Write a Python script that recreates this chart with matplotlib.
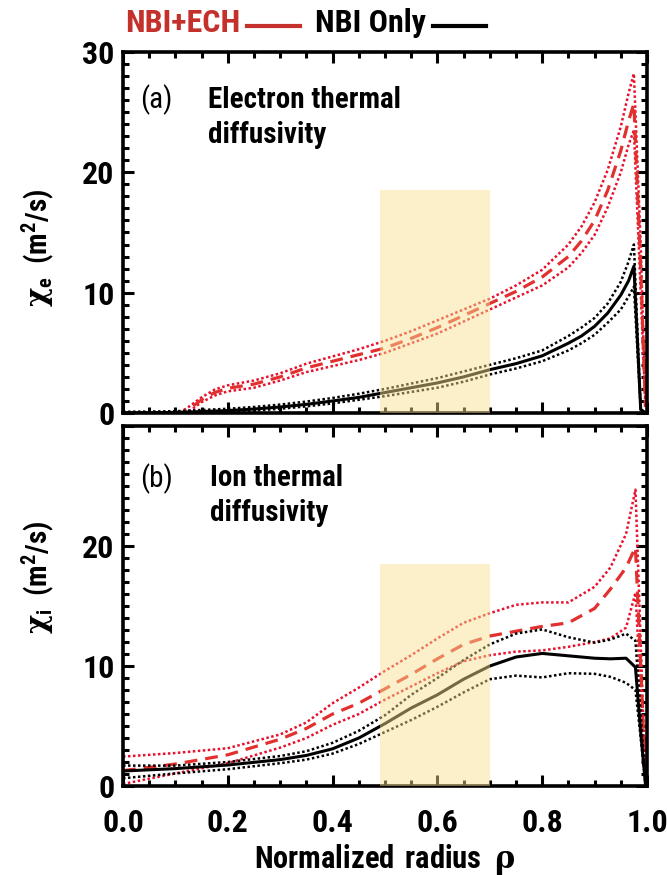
import numpy as np
import matplotlib
matplotlib.use('Agg')
import matplotlib.pyplot as plt
from matplotlib import font_manager
from matplotlib.lines import Line2D
from matplotlib.patches import Rectangle
from matplotlib.ticker import MultipleLocator

# pick the narrowest sans that is installed
installed = {f.name for f in font_manager.fontManager.ttflist}
base = 'DejaVu Sans'
for cand in ['Liberation Sans Narrow', 'Roboto Condensed', 'Open Sans Condensed',
             'Liberation Sans']:
    if cand in installed:
        base = cand
        break

plt.rcParams['font.family'] = [base, 'DejaVu Sans']
plt.rcParams['font.weight'] = 'bold'
plt.rcParams['axes.labelweight'] = 'bold'
plt.rcParams['mathtext.fontset'] = 'custom'
plt.rcParams['mathtext.rm'] = base + ':bold'
plt.rcParams['mathtext.bf'] = base + ':bold'
plt.rcParams['mathtext.it'] = 'DejaVu Serif'

nan = np.nan

# (a) electron thermal diffusivity, m^2/s
rho_a = [0.0, 0.05, 0.1, 0.125, 0.15, 0.175, 0.2, 0.25, 0.3, 0.35, 0.4, 0.45, 0.5,
         0.55, 0.6, 0.65, 0.7, 0.75, 0.8, 0.85, 0.875, 0.9, 0.925, 0.95, 0.965,
         0.975, 0.988, 0.997]
chie_nbi = [0.0, 0.02, 0.05, 0.08, 0.12, 0.16, 0.2, 0.33, 0.5, 0.72, 1.0, 1.3, 1.7,
            2.1, 2.5, 3.0, 3.6, 4.1, 4.75, 5.8, 6.4, 7.2, 8.3, 9.8, 11.0,
            12.2, 0.3, 0.0]
chie_nbi_hi = [0.1, 0.12, 0.15, 0.2, 0.25, 0.3, 0.35, 0.5, 0.7, 0.95, 1.25, 1.6, 2.0,
               2.45, 2.9, 3.45, 4.0, 4.55, 5.2, 6.4, 7.1, 7.9, 9.1, 10.9, 12.6,
               14.0, 0.3, 0.0]
chie_nbi_lo = [-0.1, -0.1, -0.05, 0.0, 0.03, 0.06, 0.1, 0.2, 0.35, 0.55, 0.8, 1.1, 1.4,
               1.75, 2.1, 2.6, 3.2, 3.7, 4.3, 5.2, 5.8, 6.5, 7.5, 8.6, 9.7,
               10.5, 0.3, 0.0]
chie_ech = [nan, nan, -0.3, 0.3, 1.1, 1.7, 2.05, 2.4, 3.0, 3.75, 4.3, 4.85, 5.4,
            6.2, 7.1, 8.1, 9.1, 10.1, 11.3, 13.0, 14.3, 16.0, 18.5, 21.8, 24.3,
            25.7, 12.0, 0.5]
chie_ech_hi = [nan, nan, -0.2, 0.5, 1.3, 1.95, 2.3, 2.7, 3.3, 4.1, 4.7, 5.3, 6.0,
               6.8, 7.7, 8.6, 9.5, 10.6, 11.9, 14.0, 15.5, 17.5, 20.2, 23.8, 26.6,
               28.2, 14.0, 0.5]
chie_ech_lo = [nan, nan, -0.4, 0.1, 0.9, 1.45, 1.8, 2.1, 2.7, 3.4, 3.9, 4.4, 5.0,
               5.8, 6.6, 7.6, 8.6, 9.6, 10.6, 12.1, 13.3, 14.8, 17.1, 20.0, 22.3,
               23.5, 10.0, 0.5]

# (b) ion thermal diffusivity, m^2/s
rho_b = [0.0, 0.1, 0.2, 0.3, 0.35, 0.4, 0.45, 0.5, 0.55, 0.6, 0.65, 0.7, 0.75,
         0.8, 0.85, 0.9, 0.93, 0.96, 0.978, 0.988, 0.997]
chii_nbi = [1.25, 1.45, 1.75, 2.2, 2.55, 3.1, 4.0, 5.2, 6.5, 7.6, 8.9, 10.0, 10.75,
            11.05, 10.85, 10.65, 10.6, 10.65, 9.9, 4.5, 0.2]
chii_nbi_hi = [1.7, 1.7, 2.0, 2.5, 2.9, 3.6, 4.6, 5.9, 7.6, 9.0, 10.5, 11.8, 12.7,
               13.05, 12.4, 11.95, 12.2, 12.7, 12.1, 6.0, 0.2]
chii_nbi_lo = [0.65, 1.05, 1.4, 1.9, 2.2, 2.7, 3.5, 4.5, 5.5, 6.6, 7.8, 8.9, 9.2,
               9.05, 9.4, 9.35, 9.1, 8.6, 8.0, 4.0, 0.2]
chii_ech = [1.28, 1.83, 2.6, 3.9, 4.8, 6.0, 6.9, 8.1, 9.3, 10.6, 11.8, 12.5, 12.9,
            13.3, 13.6, 14.8, 16.4, 18.2, 19.9, 10.0, 0.5]
chii_ech_hi = [2.45, 2.75, 3.15, 4.3, 5.3, 6.9, 8.2, 9.6, 10.9, 12.3, 13.6, 14.4, 15.1,
               15.3, 15.3, 16.6, 18.2, 21.0, 24.7, 12.0, 0.5]
chii_ech_lo = [0.17, 1.05, 1.9, 3.2, 4.0, 5.1, 6.0, 7.2, 8.3, 9.4, 10.4, 10.9, 11.2,
               11.3, 11.6, 12.0, 12.3, 13.2, 16.1, 8.0, 0.5]

# shaded region and panel limits
band_rho = [0.49, 0.70]
band_top = 18.5
ylim = [0, 30]

red_leg = '#c4302b'
red_dash = '#e2302e'
red_dot = '#e8102c'
dots = (0, (1, 1))

fig = plt.figure(figsize=(6.67, 8.75), dpi=100)
ax1 = fig.add_axes([0.1844, 0.528, 0.7856, 0.4126])
ax2 = fig.add_axes([0.1844, 0.1017, 0.7856, 0.4114])


def draw_panel(ax, rho, nbi, nbi_hi, nbi_lo, ech, ech_hi, ech_lo):
    ax.plot(rho, ech_hi, color=red_dot, lw=1.8, ls=dots)
    ax.plot(rho, ech_lo, color=red_dot, lw=1.8, ls=dots)
    ax.plot(rho, ech, color=red_dash, lw=2.3, ls=(0, (4, 2.5)))
    ax.plot(rho, nbi_hi, color='black', lw=1.8, ls=dots)
    ax.plot(rho, nbi_lo, color='black', lw=1.8, ls=dots)
    ax.plot(rho, nbi, color='black', lw=2.2)
    ax.add_patch(Rectangle((band_rho[0], 0), band_rho[1] - band_rho[0], band_top,
                           facecolor='#f7e190', edgecolor='none', alpha=0.47,
                           zorder=5))
    ax.set_xlim(0, 1)
    ax.set_ylim(ylim)
    ax.xaxis.set_major_locator(MultipleLocator(0.2))
    ax.xaxis.set_minor_locator(MultipleLocator(0.05))
    ax.yaxis.set_major_locator(MultipleLocator(10))
    ax.yaxis.set_minor_locator(MultipleLocator(1))
    ax.tick_params(which='both', direction='in', top=True, right=True,
                   width=2.2, labelsize=23, pad=6)
    ax.tick_params(which='major', length=8)
    ax.tick_params(which='minor', length=4.5)
    for sp in ax.spines.values():
        sp.set_linewidth(2.6)


draw_panel(ax1, rho_a, chie_nbi, chie_nbi_hi, chie_nbi_lo,
           chie_ech, chie_ech_hi, chie_ech_lo)
draw_panel(ax2, rho_b, chii_nbi, chii_nbi_hi, chii_nbi_lo,
           chii_ech, chii_ech_hi, chii_ech_lo)

ax1.tick_params(labelbottom=False)
ax2.set_yticks([0, 10, 20, 30], ['0', '10', '20', ''])
ax2.set_xticks([0, 0.2, 0.4, 0.6, 0.8, 1.0], ['0.0', '0.2', '0.4', '0.6', '0.8', '1.0'])
ax2.tick_params(axis='x', pad=16)

ax2.set_xlabel(r'$\mathbf{Normalized\ radius}$  $\rho$', fontsize=22,
               fontweight='normal', labelpad=3)

# y labels: thin chi, bold subscript and units
fig.text(0.057, 0.717, r'$\chi_{\mathbf{e}}$  $\mathbf{(m^2/s)}$', rotation=90,
         fontsize=21, fontweight='normal', ha='center', va='center')
fig.text(0.057, 0.340, r'$\chi_{\mathbf{i}}$  $\mathbf{(m^2/s)}$', rotation=90,
         fontsize=21, fontweight='normal', ha='center', va='center')

# panel tags
ax1.text(0.032, 0.867, '(a)', transform=ax1.transAxes, fontsize=21,
         fontweight='normal', va='center')
ax1.text(0.162, 0.867, 'Electron thermal', transform=ax1.transAxes, fontsize=21,
         va='center')
ax1.text(0.162, 0.770, 'diffusivity', transform=ax1.transAxes, fontsize=21,
         va='center')
ax2.text(0.032, 0.855, '(b)', transform=ax2.transAxes, fontsize=21,
         fontweight='normal', va='center')
ax2.text(0.166, 0.855, 'Ion thermal', transform=ax2.transAxes, fontsize=21,
         va='center')
ax2.text(0.166, 0.758, 'diffusivity', transform=ax2.transAxes, fontsize=21,
         va='center')

# legend strip above the top panel: each swatch follows its label
renderer = fig.canvas.get_renderer()
leg_y = 1 - 23 / 875
x0 = 125 / 667
for label, col in [('NBI+ECH', red_leg), ('NBI Only', 'black')]:
    t = fig.text(x0, leg_y, label, color=col, fontsize=23, va='center')
    bb = t.get_window_extent(renderer).transformed(fig.transFigure.inverted())
    fig.add_artist(Line2D([bb.x1 + 0.010, bb.x1 + 0.090], [leg_y - 0.003] * 2,
                          color=col, lw=3))
    x0 = bb.x1 + 0.112

fig.savefig('out.png', dpi=100)
